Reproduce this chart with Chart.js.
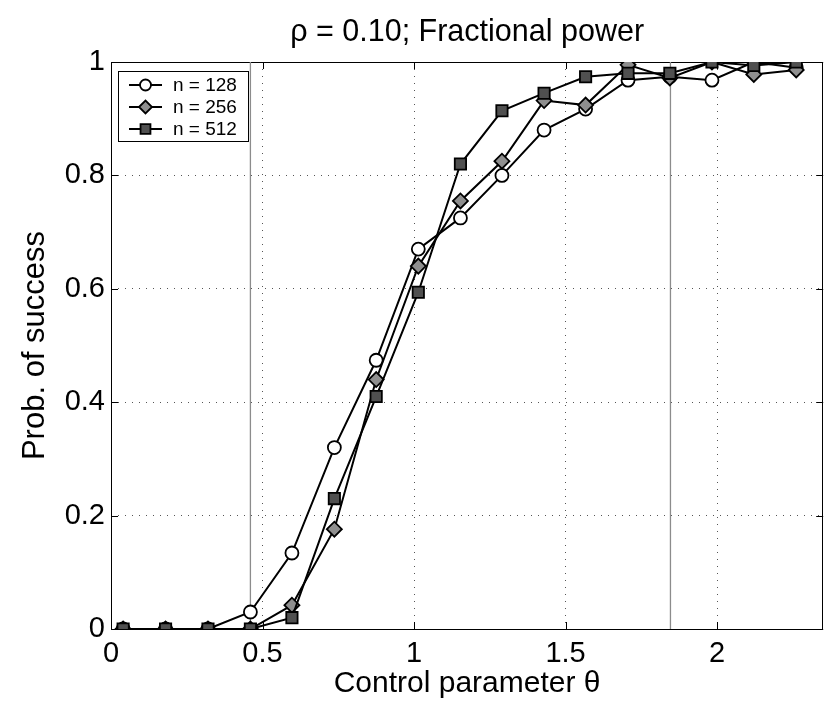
<!DOCTYPE html>
<html>
<head>
<meta charset="utf-8">
<title>Fractional power</title>
<script src="https://cdn.jsdelivr.net/npm/chart.js@4/dist/chart.umd.min.js"></script>
<style>
  html, body { margin: 0; padding: 0; background: #fff; }
  #wrap { width: 833px; height: 704px; }
</style>
</head>
<body>
<div id="wrap"><canvas id="chart" width="833" height="704"></canvas></div>
<script>
const theta = [0.04, 0.18, 0.32, 0.46, 0.597, 0.737, 0.875, 1.014, 1.153, 1.29, 1.429, 1.566, 1.706, 1.844, 1.983, 2.121, 2.261];
const n128 = [0, 0, 0, 0.03, 0.134, 0.32, 0.474, 0.67, 0.725, 0.80, 0.88, 0.917, 0.968, 0.974, 0.968, 1.0, 0.99];
const n256 = [0, 0, 0, 0, 0.042, 0.176, 0.44, 0.64, 0.755, 0.825, 0.932, 0.924, 0.995, 0.972, 1.0, 0.978, 0.986];
const n512 = [0, 0, 0, 0, 0.02, 0.23, 0.41, 0.594, 0.82, 0.914, 0.945, 0.974, 0.98, 0.98, 1.0, 0.994, 1.0];
const seriesNames = ['n = 128', 'n = 256', 'n = 512'];
const xTicks = [0, 0.5, 1, 1.5, 2];
const yTicks = [0, 0.2, 0.4, 0.6, 0.8, 1];
const refLines = [0.46, 1.846];

const FONT = "'Liberation Sans', Arial, Helvetica, sans-serif";

function pts(vals) {
  return theta.map(function (x, i) { return { x: x, y: vals[i] }; });
}

const styles = [
  { pointStyle: 'circle', radius: 6.5, fill: '#ffffff' },
  { pointStyle: 'rectRot', radius: 7.5, fill: '#8f8f8f' },
  { pointStyle: 'rect', radius: 8, fill: '#505050' }
];

const series = [n128, n256, n512].map(function (vals, i) {
  return {
    label: seriesNames[i],
    data: pts(vals),
    borderColor: '#000',
    borderWidth: 2,
    tension: 0,
    pointStyle: styles[i].pointStyle,
    pointRadius: styles[i].radius,
    pointBackgroundColor: styles[i].fill,
    pointBorderColor: '#000',
    pointBorderWidth: 1.8,
    order: 3 - i
  };
});

const refSets = refLines.map(function (v) {
  return {
    label: 'ref',
    data: [{ x: v, y: 0 }, { x: v, y: 1 }],
    borderColor: '#8c8c8c',
    borderWidth: 1.3,
    pointRadius: 0,
    order: 10
  };
});

// axes box with inward ticks, MATLAB style
const boxAxes = {
  id: 'boxAxes',
  beforeDatasetsDraw(chart) {
    const ctx = chart.ctx, a = chart.chartArea;
    const xs = chart.scales.x, ys = chart.scales.y;
    ctx.save();
    ctx.strokeStyle = '#000';
    ctx.lineWidth = 1;
    ctx.strokeRect(Math.round(a.left) + 0.5, Math.round(a.top) + 0.5,
      Math.round(a.right - a.left) - 1, Math.round(a.bottom - a.top));
    ctx.beginPath();
    xTicks.forEach(function (v) {
      const px = Math.round(xs.getPixelForValue(v)) + 0.5;
      ctx.moveTo(px, a.bottom); ctx.lineTo(px, a.bottom - 7);
      ctx.moveTo(px, a.top); ctx.lineTo(px, a.top + 7);
    });
    yTicks.forEach(function (v) {
      const py = Math.round(ys.getPixelForValue(v)) + 0.5;
      ctx.moveTo(a.left, py); ctx.lineTo(a.left + 7, py);
      ctx.moveTo(a.right, py); ctx.lineTo(a.right - 7, py);
    });
    ctx.stroke();
    ctx.restore();
  }
};

const boxLegend = {
  id: 'boxLegend',
  afterDatasetsDraw(chart) {
    const ctx = chart.ctx, a = chart.chartArea;
    const lx = Math.round(a.left) + 7, ly = Math.round(a.top) + 9;
    ctx.save();
    ctx.fillStyle = '#fff';
    ctx.fillRect(lx, ly, 130, 70);
    ctx.strokeStyle = '#000';
    ctx.lineWidth = 1;
    ctx.strokeRect(lx + 0.5, ly + 0.5, 130, 70);
    seriesNames.forEach(function (name, i) {
      const y = ly + 14 + i * 22;
      ctx.strokeStyle = '#000';
      ctx.lineWidth = 2;
      ctx.beginPath();
      ctx.moveTo(lx + 11, y); ctx.lineTo(lx + 44, y);
      ctx.stroke();
      ctx.fillStyle = styles[i].fill;
      ctx.lineWidth = 1.8;
      Chart.helpers.drawPoint(ctx, {
        pointStyle: styles[i].pointStyle,
        radius: styles[i].radius - 1,
        borderWidth: 1.8,
        rotation: 0
      }, lx + 27.5, y);
      ctx.fillStyle = '#000';
      ctx.font = '19px ' + FONT;
      ctx.textBaseline = 'middle';
      ctx.textAlign = 'left';
      ctx.fillText(name, lx + 55, y + 1);
    });
    ctx.restore();
  }
};

function gridColor(ends) {
  return function (c) {
    const v = c.tick ? c.tick.value : null;
    return ends.indexOf(v) >= 0 ? 'rgba(0,0,0,0)' : '#555';
  };
}

new Chart(document.getElementById('chart'), {
  type: 'line',
  data: { datasets: series.concat(refSets) },
  options: {
    responsive: false,
    animation: false,
    devicePixelRatio: 1,
    layout: { padding: { left: 0, right: 4, top: 0, bottom: 0 } },
    plugins: {
      legend: { display: false },
      tooltip: { enabled: false },
      title: {
        display: true,
        fullSize: false,
        text: 'ρ = 0.10; Fractional power',
        color: '#000',
        font: { family: FONT, size: 30.5, weight: 'normal', lineHeight: 1.2 },
        padding: { top: 14, bottom: 11.4 }
      }
    },
    scales: {
      x: {
        type: 'linear',
        min: 0,
        max: 2.35,
        afterBuildTicks: function (s) { s.ticks = xTicks.map(function (v) { return { value: v }; }); },
        afterFit: function (s) { s.height = 75; },
        ticks: {
          color: '#000',
          padding: 8,
          maxRotation: 0,
          font: { family: FONT, size: 29 },
          callback: function (v) { return String(v); }
        },
        grid: { drawTicks: false, color: gridColor([0, 2.35]), lineWidth: 1 },
        border: { display: false, dash: [1, 6] },
        title: {
          display: true,
          text: 'Control parameter θ',
          color: '#000',
          font: { family: FONT, size: 30, lineHeight: 1.2 },
          padding: { top: 0, bottom: 2 }
        }
      },
      y: {
        type: 'linear',
        min: 0,
        max: 1,
        afterBuildTicks: function (s) { s.ticks = yTicks.map(function (v) { return { value: v }; }); },
        afterFit: function (s) { s.width = 111; },
        ticks: {
          color: '#000',
          padding: 6,
          font: { family: FONT, size: 29 },
          callback: function (v) { return String(v); }
        },
        grid: { drawTicks: false, color: gridColor([0, 1]), lineWidth: 1 },
        border: { display: false, dash: [1, 6] },
        title: {
          display: true,
          text: 'Prob. of success',
          color: '#000',
          font: { family: FONT, size: 31, lineHeight: 1.2 },
          padding: { top: 17, bottom: 0 }
        }
      }
    }
  },
  plugins: [boxAxes, boxLegend]
});
</script>
</body>
</html>
